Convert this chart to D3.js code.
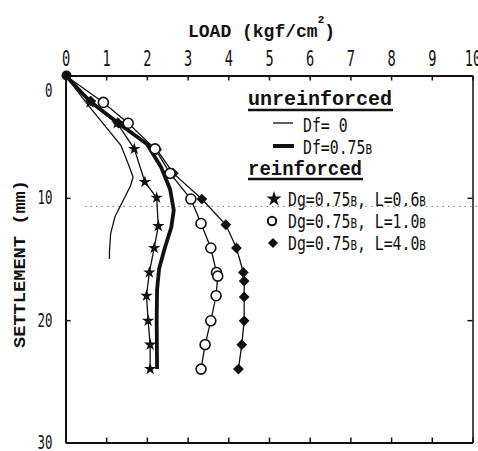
<!DOCTYPE html>
<html>
<head>
<meta charset="utf-8">
<script src="https://cdn.jsdelivr.net/npm/d3@7/dist/d3.min.js"></script>
<style>
  body { margin: 0; background: #fff; }
  svg { display: block; }
  .axis path, .axis line { stroke: #111; }
  .tick text { font-family: "DejaVu Sans Mono"; fill: #111; }
</style>
</head>
<body>
<svg></svg>
<script>
// tick values
var loadTicks = [0, 1, 2, 3, 4, 5, 6, 7, 8, 9, 10];
var settleTicks = [0, 10, 20, 30];

// unreinforced, Df = 0 (thin line)
var thinLoad = [0, 0.55, 1.36, 1.55, 1.66, 1.6, 1.42, 1.22, 1.11, 1.08, 1.08];
var thinSettle = [0, 2.4, 5.7, 7.3, 8.3, 9.0, 10.2, 11.5, 12.9, 14.4, 15.0];

// unreinforced, Df = 0.75B (thick line)
var thickLoad = [0, 0.6, 1.3, 2.0, 2.35, 2.57, 2.66, 2.6, 2.44, 2.3, 2.25, 2.24, 2.25];
var thickSettle = [0, 2.1, 3.9, 5.6, 7.5, 9.3, 11.0, 12.4, 14.1, 15.8, 17.5, 20.0, 24.0];

// reinforced, L = 0.6B (stars)
var starLoad = [0, 0.6, 1.27, 1.69, 1.95, 2.24, 2.28, 2.18, 2.06, 1.99, 2.03, 2.08, 2.08];
var starSettle = [0, 2.2, 3.9, 6.0, 8.7, 10.0, 12.3, 14.1, 16.1, 18.0, 20.05, 22.0, 24.0];

// reinforced, L = 1.0B (open circles)
var circleLoad = [0, 0.93, 1.54, 2.2, 2.57, 3.08, 3.33, 3.57, 3.71, 3.74, 3.7, 3.57, 3.43, 3.33];
var circleSettle = [0, 2.2, 3.9, 6.0, 8.0, 10.1, 12.1, 14.1, 16.1, 16.4, 18.0, 20.05, 22.0, 24.0];

// reinforced, L = 4.0B (diamonds)
var diamondLoad = [0, 0.62, 1.3, 2.24, 2.65, 3.35, 3.94, 4.2, 4.37, 4.39, 4.39, 4.39, 4.33, 4.25];
var diamondSettle = [0, 2.1, 3.9, 6.05, 8.0, 10.1, 12.2, 14.1, 16.1, 16.8, 18.1, 20.05, 22.0, 24.0];

var zipPoints = function (loads, settles) {
  return loads.map(function (l, i) {
    return { load: l, settle: settles[i] };
  });
};

var makeTranslateString = function (x, y) {
  return "translate(" + x + "," + y + ")";
};

var screen = { width: 478, height: 451 };
var plot = { left: 65.5, right: 472.5, top: 75.5, bottom: 442.5 };

var svg = d3.select("svg").attr("width", screen.width).attr("height", screen.height);

var loadScale = d3.scaleLinear().domain([0, 10]).range([plot.left, plot.right]);
var settleScale = d3.scaleLinear().domain([0, 30]).range([plot.top, plot.bottom]);

// scan artifact: faint dotted line across the plot
svg.append("line")
  .attr("x1", 85).attr("x2", 478)
  .attr("y1", settleScale(10.7)).attr("y2", settleScale(10.7))
  .attr("stroke", "#777").attr("stroke-width", 1)
  .attr("stroke-dasharray", "1.5,4");

//axes, ticks all point inward
var drawAxes = function () {
  var top = svg.append("g").attr("class", "axis")
    .attr("transform", makeTranslateString(0, plot.top))
    .call(d3.axisTop(loadScale).tickValues(loadTicks).tickSizeInner(-5).tickSizeOuter(0).tickPadding(10));
  top.select(".domain").attr("stroke-width", 2);
  top.selectAll("line").attr("stroke-width", 1.5);
  top.selectAll("text")
    .attr("font-size", 22)
    .attr("transform", "scale(0.62,1)");

  var bottom = svg.append("g").attr("class", "axis")
    .attr("transform", makeTranslateString(0, plot.bottom))
    .call(d3.axisBottom(loadScale).tickValues(loadTicks).tickSizeInner(-5).tickSizeOuter(0).tickFormat(""));
  bottom.select(".domain").attr("stroke-width", 2);
  bottom.selectAll("line").attr("stroke-width", 1.5);

  var left = svg.append("g").attr("class", "axis")
    .attr("transform", makeTranslateString(plot.left, 0))
    .call(d3.axisLeft(settleScale).tickValues(settleTicks).tickSizeInner(-5).tickSizeOuter(0));
  left.select(".domain").attr("stroke-width", 2);
  left.selectAll("line").attr("stroke-width", 1.5);
  left.selectAll("text")
    .attr("font-size", 20)
    .attr("x", -21)
    .attr("dy", function (d) { return d === 0 ? "1.05em" : "0.3em"; })
    .attr("transform", "scale(0.62,1)");

  var right = svg.append("g").attr("class", "axis")
    .attr("transform", makeTranslateString(plot.right, 0))
    .call(d3.axisRight(settleScale).tickValues([10, 20]).tickSizeInner(-5).tickSizeOuter(0).tickFormat(""));
  right.select(".domain").attr("stroke-width", 1.5);
  right.selectAll("line").attr("stroke-width", 1.5);
};

var drawLabels = function () {
  var title = svg.append("text")
    .attr("x", 188).attr("y", 37)
    .attr("font-family", "Liberation Mono")
    .attr("font-weight", "bold")
    .attr("font-size", 18)
    .attr("fill", "#111");
  title.append("tspan").text("LOAD (kgf/cm");
  title.append("tspan").attr("dy", -14).attr("font-size", 11).text("2");
  title.append("tspan").attr("dy", 14).text(")");

  svg.append("text")
    .attr("transform", "translate(25,264) rotate(-90)")
    .attr("text-anchor", "middle")
    .attr("font-family", "Liberation Mono")
    .attr("font-weight", "bold")
    .attr("font-size", 16)
    .attr("textLength", 168)
    .attr("lengthAdjust", "spacingAndGlyphs")
    .attr("fill", "#111")
    .text("SETTLEMENT (mm)");
};

var line = d3.line()
  .x(function (p) { return loadScale(p.load); })
  .y(function (p) { return settleScale(p.settle); });

var drawPlot = function () {
  var g = svg.append("g").attr("id", "plot");

  g.append("path").datum(zipPoints(thinLoad, thinSettle))
    .attr("d", line).attr("fill", "none").attr("stroke", "#111").attr("stroke-width", 1.3);
  g.append("path").datum(zipPoints(starLoad, starSettle))
    .attr("d", line).attr("fill", "none").attr("stroke", "#111").attr("stroke-width", 1.3);
  g.append("path").datum(zipPoints(circleLoad, circleSettle))
    .attr("d", line).attr("fill", "none").attr("stroke", "#111").attr("stroke-width", 1.3);
  g.append("path").datum(zipPoints(diamondLoad, diamondSettle))
    .attr("d", line).attr("fill", "none").attr("stroke", "#111").attr("stroke-width", 1.3);
  g.append("path").datum(zipPoints(thickLoad, thickSettle))
    .attr("d", line).attr("fill", "none").attr("stroke", "#111").attr("stroke-width", 3.8)
    .attr("stroke-linejoin", "round");

  var star = d3.symbol().type(d3.symbolStar).size(48);
  var diamond = d3.symbol().type(d3.symbolSquare).size(58);

  g.selectAll(".diamond")
    .data(zipPoints(diamondLoad, diamondSettle).slice(1))
    .enter().append("path")
    .attr("class", "diamond")
    .attr("d", diamond)
    .attr("transform", function (p) {
      return makeTranslateString(loadScale(p.load), settleScale(p.settle)) + " rotate(45)";
    })
    .attr("fill", "#111");

  g.selectAll(".circ")
    .data(zipPoints(circleLoad, circleSettle).slice(1))
    .enter().append("circle")
    .attr("class", "circ")
    .attr("cx", function (p) { return loadScale(p.load); })
    .attr("cy", function (p) { return settleScale(p.settle); })
    .attr("r", 5)
    .attr("fill", "#fff")
    .attr("stroke", "#111")
    .attr("stroke-width", 1.6);

  g.selectAll(".star")
    .data(zipPoints(starLoad, starSettle).slice(1))
    .enter().append("path")
    .attr("class", "star")
    .attr("d", star)
    .attr("transform", function (p) {
      return makeTranslateString(loadScale(p.load), settleScale(p.settle));
    })
    .attr("fill", "#111");

  // common origin
  g.append("circle")
    .attr("cx", loadScale(0) + 1).attr("cy", settleScale(0))
    .attr("r", 5).attr("fill", "#111");
};

//text with a smaller "B" suffix, squeezed horizontally
var legendText = function (x, y, parts) {
  var t = svg.append("text")
    .attr("transform", makeTranslateString(x, y) + " scale(0.78,1)")
    .attr("font-family", "DejaVu Sans Mono")
    .attr("font-size", 19)
    .attr("fill", "#111");
  parts.forEach(function (part) {
    t.append("tspan")
      .attr("font-size", part.small ? 14 : 19)
      .text(part.text);
  });
};

var drawLegend = function () {
  svg.append("text")
    .attr("x", 248).attr("y", 105)
    .attr("font-family", "Liberation Mono").attr("font-weight", "bold")
    .attr("font-size", 20).attr("textLength", 144).attr("lengthAdjust", "spacingAndGlyphs")
    .attr("fill", "#111").text("unreinforced");
  svg.append("line").attr("x1", 248).attr("x2", 393).attr("y1", 110).attr("y2", 110)
    .attr("stroke", "#111").attr("stroke-width", 2.5);

  svg.append("line").attr("x1", 273).attr("x2", 293).attr("y1", 123).attr("y2", 123)
    .attr("stroke", "#111").attr("stroke-width", 1.3);
  legendText(303, 132, [{ text: "Df= 0" }]);

  svg.append("line").attr("x1", 273).attr("x2", 294).attr("y1", 146).attr("y2", 146)
    .attr("stroke", "#111").attr("stroke-width", 4);
  legendText(303, 154, [{ text: "Df=0.75" }, { text: "B", small: true }]);

  svg.append("text")
    .attr("x", 248).attr("y", 175)
    .attr("font-family", "Liberation Mono").attr("font-weight", "bold")
    .attr("font-size", 20).attr("textLength", 114).attr("lengthAdjust", "spacingAndGlyphs")
    .attr("fill", "#111").text("reinforced");
  svg.append("line").attr("x1", 248).attr("x2", 363).attr("y1", 179).attr("y2", 179)
    .attr("stroke", "#111").attr("stroke-width", 2.5);

  svg.append("path").attr("d", d3.symbol().type(d3.symbolStar).size(70))
    .attr("transform", makeTranslateString(274, 199)).attr("fill", "#111");
  legendText(288, 206, [{ text: "Dg=0.75" }, { text: "B", small: true }, { text: ", L=0.6" }, { text: "B", small: true }]);

  svg.append("circle").attr("cx", 272).attr("cy", 221).attr("r", 4.2)
    .attr("fill", "#fff").attr("stroke", "#111").attr("stroke-width", 2);
  legendText(288, 228, [{ text: "Dg=0.75" }, { text: "B", small: true }, { text: ", L=1.0" }, { text: "B", small: true }]);

  svg.append("path").attr("d", d3.symbol().type(d3.symbolSquare).size(50))
    .attr("transform", makeTranslateString(273, 243) + " rotate(45)").attr("fill", "#111");
  legendText(288, 250, [{ text: "Dg=0.75" }, { text: "B", small: true }, { text: ", L=4.0" }, { text: "B", small: true }]);
};

drawAxes();
drawLabels();
drawPlot();
drawLegend();
</script>
</body>
</html>
